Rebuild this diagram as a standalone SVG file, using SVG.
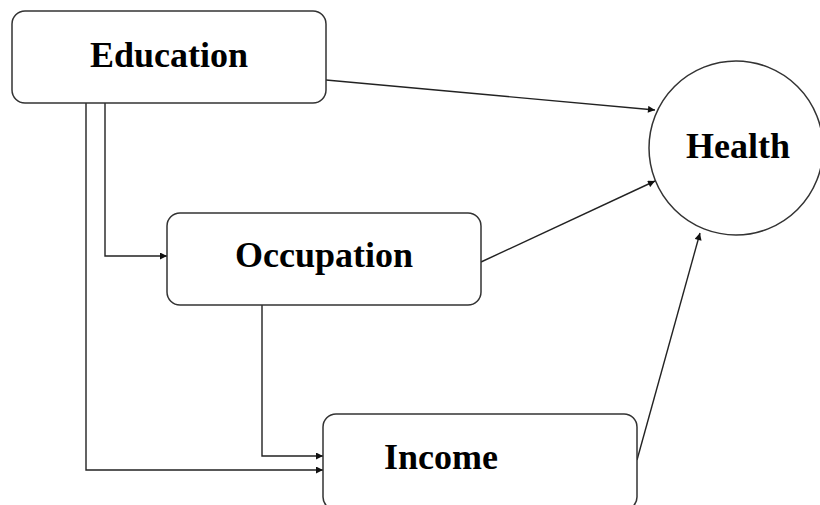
<svg xmlns="http://www.w3.org/2000/svg" width="820" height="505" viewBox="0 0 820 505">
  <style>
    .box { fill: #fff; stroke: #333; stroke-width: 1.5; }
    .lbl { font-family: "Liberation Serif", "Times New Roman", serif; font-weight: bold; font-size: 36px; fill: #000; text-anchor: middle; }
    .edge { fill: none; stroke: #222; stroke-width: 1.4; }
  </style>
  <defs>
    <marker id="arr" viewBox="0 0 10 10" refX="10" refY="5" markerWidth="9" markerHeight="7" markerUnits="userSpaceOnUse" orient="auto">
      <path d="M0,0 L10,5 L0,10 z" fill="#111"/>
    </marker>
  </defs>
  <rect width="820" height="505" fill="#fff"/>

  <g id="connectors">
    <line class="edge" x1="326" y1="80" x2="655" y2="110" marker-end="url(#arr)"/>
    <line class="edge" x1="481" y1="262" x2="655" y2="181" marker-end="url(#arr)"/>
    <line class="edge" x1="637" y1="460" x2="700" y2="233" marker-end="url(#arr)"/>
    <polyline class="edge" points="105,103 105,256 167,256" marker-end="url(#arr)"/>
    <polyline class="edge" points="86,103 86,470 323,470" marker-end="url(#arr)"/>
    <polyline class="edge" points="262,305 262,456 323,456" marker-end="url(#arr)"/>
  </g>

  <g id="education">
    <rect class="box" x="12" y="11" width="314" height="92" rx="13"/>
    <text class="lbl" x="169" y="67">Education</text>
  </g>
  <g id="occupation">
    <rect class="box" x="167" y="213" width="314" height="92" rx="13"/>
    <text class="lbl" x="324" y="267">Occupation</text>
  </g>
  <g id="income">
    <rect class="box" x="323" y="414" width="314" height="96" rx="13"/>
    <text class="lbl" x="441" y="469">Income</text>
  </g>
  <g id="health">
    <circle class="box" cx="736" cy="148" r="87"/>
    <text class="lbl" x="738" y="158">Health</text>
  </g>
</svg>
